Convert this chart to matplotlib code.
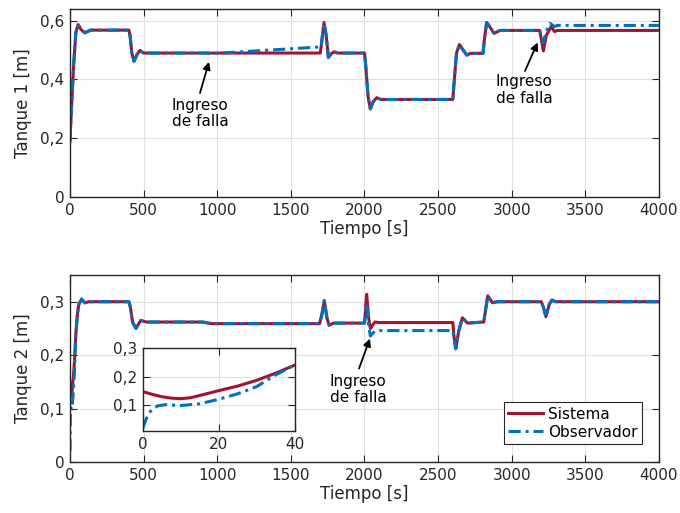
import numpy as np
import matplotlib
matplotlib.use("Agg")
import matplotlib.pyplot as plt
from matplotlib.ticker import FuncFormatter

# Tanque 1 - sistema
t1_sis = [0, 10, 25, 40, 55, 75, 100, 140, 400, 408, 420, 435, 455, 475, 500, 530,
          1700, 1708, 1725, 1740, 1755, 1775, 1795, 1820, 2000, 2008, 2025, 2040, 2060,
          2083, 2110, 2600, 2607, 2625, 2645, 2670, 2695, 2720, 2805, 2815, 2830, 2850,
          2880, 2920, 3190, 3200, 3215, 3235, 3267, 3290, 3310, 4000]
h1_sis = [0.19, 0.30, 0.45, 0.56, 0.587, 0.57, 0.559, 0.568, 0.568, 0.55, 0.49, 0.462,
          0.485, 0.499, 0.49, 0.49, 0.49, 0.52, 0.594, 0.55, 0.475, 0.488, 0.494, 0.49,
          0.49, 0.45, 0.34, 0.30, 0.325, 0.338, 0.332, 0.332, 0.38, 0.49, 0.519, 0.50,
          0.483, 0.489, 0.489, 0.54, 0.594, 0.58, 0.557, 0.567, 0.567, 0.54, 0.497, 0.55,
          0.58, 0.563, 0.567, 0.567]

# Tanque 1 - observador
t1_obs = [0, 10, 25, 40, 55, 75, 100, 140, 400, 408, 420, 435, 455, 475, 500, 530,
          930, 962, 1000, 1705, 1712, 1725, 1740, 1755, 1775, 1795, 1820, 2000, 2008,
          2025, 2040, 2060, 2083, 2110, 2600, 2607, 2625, 2645, 2670, 2695, 2720, 2805,
          2815, 2830, 2850, 2880, 2920, 3190, 3200, 3215, 3235, 3260, 3290, 3310, 4000]
h1_obs = [0.19, 0.30, 0.45, 0.56, 0.587, 0.57, 0.559, 0.568, 0.568, 0.55, 0.49, 0.462,
          0.485, 0.499, 0.49, 0.49, 0.49, 0.487, 0.489, 0.511, 0.54, 0.594, 0.55, 0.475,
          0.488, 0.494, 0.49, 0.49, 0.45, 0.34, 0.30, 0.325, 0.338, 0.332, 0.332, 0.38,
          0.49, 0.519, 0.50, 0.483, 0.489, 0.489, 0.54, 0.594, 0.58, 0.557, 0.567, 0.567,
          0.55, 0.525, 0.565, 0.591, 0.58, 0.584, 0.584]

# Tanque 2 - sistema
t2_sis = [0, 2.5, 5, 7.5, 10, 12.5, 15, 20, 25, 30, 35, 40, 50, 60, 79, 100, 130, 400,
          410, 425, 448, 480, 520, 900, 960, 1695, 1710, 1727, 1745, 1760, 1790, 2000,
          2015, 2028, 2040, 2070, 2100, 2600, 2608, 2620, 2640, 2665, 2700, 2810, 2820,
          2837, 2870, 2900, 3200, 3215, 3232, 3255, 3272, 3300, 4000]
h2_sis = [0.148, 0.138, 0.13, 0.125, 0.123, 0.126, 0.134, 0.151, 0.167, 0.187, 0.212,
          0.24, 0.275, 0.295, 0.305, 0.298, 0.30, 0.30, 0.29, 0.262, 0.25, 0.265, 0.262,
          0.262, 0.259, 0.259, 0.275, 0.302, 0.27, 0.256, 0.26, 0.26, 0.314, 0.27, 0.25,
          0.262, 0.261, 0.261, 0.235, 0.212, 0.245, 0.27, 0.26, 0.262, 0.28, 0.311, 0.298,
          0.30, 0.30, 0.29, 0.272, 0.295, 0.303, 0.30, 0.30]

# Tanque 2 - observador
t2_obs = [0, 1, 2, 3, 4, 6, 10, 15, 20, 25, 30, 35, 40, 50, 60, 79, 100, 130, 400, 410,
          425, 448, 480, 520, 900, 960, 1695, 1710, 1727, 1745, 1760, 1790, 2000, 2015,
          2028, 2040, 2070, 2100, 2600, 2608, 2620, 2640, 2665, 2700, 2810, 2820, 2837,
          2870, 2900, 3200, 3215, 3232, 3255, 3272, 3300, 4000]
h2_obs = [0.02, 0.055, 0.078, 0.091, 0.098, 0.102, 0.099, 0.105, 0.121, 0.14, 0.165,
          0.206, 0.24, 0.275, 0.295, 0.305, 0.298, 0.30, 0.30, 0.29, 0.262, 0.25, 0.265,
          0.262, 0.262, 0.259, 0.259, 0.275, 0.302, 0.27, 0.256, 0.26, 0.26, 0.295, 0.255,
          0.236, 0.245, 0.246, 0.246, 0.23, 0.212, 0.245, 0.27, 0.26, 0.262, 0.28, 0.311,
          0.298, 0.30, 0.30, 0.29, 0.272, 0.295, 0.303, 0.30, 0.30]

rojo = '#A2142F'
azul = '#0072BD'
gris = '#262626'
estilo_obs = (0, (4, 1.6, 1, 1.6))

plt.rcParams['font.family'] = 'DejaVu Sans'
plt.rcParams['axes.edgecolor'] = gris
plt.rcParams['xtick.color'] = gris
plt.rcParams['ytick.color'] = gris
plt.rcParams['axes.labelcolor'] = gris


def coma(v, pos):
    if abs(v) < 1e-9:
        return '0'
    return ('%g' % v).replace('.', ',')


def formato(ax, fs=11):
    ax.tick_params(direction='in', top=True, right=True, length=5, width=0.8,
                   labelsize=fs, pad=4)
    ax.yaxis.set_major_formatter(FuncFormatter(coma))
    ax.grid(True, color='#e0e0e0', lw=0.8)
    ax.set_axisbelow(True)
    for s in ax.spines.values():
        s.set_linewidth(1.0)


fig = plt.figure(figsize=(6.8, 5.13), dpi=100)

# --- Tanque 1
ax1 = fig.add_axes([0.1029, 0.616, 0.8662, 0.3665])
ax1.plot(t1_sis, h1_sis, color=rojo, lw=2.2, label='Sistema')
ax1.plot(t1_obs, h1_obs, color=azul, lw=2.2, ls=estilo_obs, label='Observador')
ax1.set_xlim(0, 4000)
ax1.set_ylim(0, 0.64)
ax1.set_yticks([0, 0.2, 0.4, 0.6])
ax1.set_xticks(np.arange(0, 4001, 500))
formato(ax1)
ax1.set_xlabel('Tiempo [s]', fontsize=12, labelpad=2)
ax1.set_ylabel('Tanque 1 [m]', fontsize=12, labelpad=6)

flecha = dict(arrowstyle='-|>', color='k', lw=1.3, mutation_scale=11, shrinkA=0, shrinkB=0)
ax1.annotate('', xy=(944, 0.46), xytext=(883, 0.354), arrowprops=flecha)
ax1.text(883, 0.283, 'Ingreso\nde falla', ha='center', va='center', fontsize=11,
         color='k', linespacing=1.1)
ax1.annotate('', xy=(3176, 0.526), xytext=(3090, 0.429), arrowprops=flecha)
ax1.text(3083, 0.364, 'Ingreso\nde falla', ha='center', va='center', fontsize=11,
         color='k', linespacing=1.1)

# --- Tanque 2
ax2 = fig.add_axes([0.1029, 0.0994, 0.8662, 0.3645])
ax2.plot(t2_sis, h2_sis, color=rojo, lw=2.2, label='Sistema')
ax2.plot(t2_obs, h2_obs, color=azul, lw=2.2, ls=estilo_obs, label='Observador')
ax2.set_xlim(0, 4000)
ax2.set_ylim(0, 0.35)
ax2.set_yticks([0, 0.1, 0.2, 0.3])
ax2.set_xticks(np.arange(0, 4001, 500))
formato(ax2)
ax2.set_xlabel('Tiempo [s]', fontsize=12, labelpad=2)
ax2.set_ylabel('Tanque 2 [m]', fontsize=12, labelpad=6)
ax2.annotate('', xy=(2037, 0.231), xytext=(1963, 0.175), arrowprops=flecha)
ax2.text(1956, 0.136, 'Ingreso\nde falla', ha='center', va='center', fontsize=11,
         color='k', linespacing=1.1)

leg = ax2.legend(loc='lower right', bbox_to_anchor=(0.971, 0.095), borderaxespad=0,
                 fontsize=11, fancybox=False, framealpha=1, edgecolor=gris,
                 handlelength=2.3, handletextpad=0.3, borderpad=0.3, labelspacing=0.2)
leg.get_frame().set_linewidth(0.8)

# --- detalle
ax3 = fig.add_axes([0.2099, 0.1598, 0.2232, 0.1618])
ax3.plot(t2_sis, h2_sis, color=rojo, lw=2.2)
ax3.plot(t2_obs, h2_obs, color=azul, lw=2.2, ls=estilo_obs)
ax3.set_xlim(0, 40)
ax3.set_ylim(0.01, 0.3)
ax3.set_xticks([0, 20, 40])
ax3.set_yticks([0.1, 0.2, 0.3])
formato(ax3)

fig.savefig('out.png', dpi=100)
